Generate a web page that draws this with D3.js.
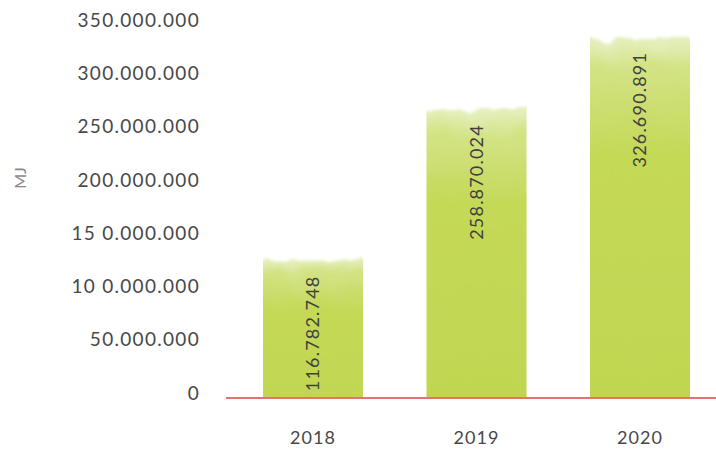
<!DOCTYPE html>
<html>
<head>
<meta charset="utf-8">
<script src="https://cdn.jsdelivr.net/npm/d3@7"></script>
<style>
  body { margin: 0; background: #fff; }
  text { font-family: Lato, "Open Sans", sans-serif; }
</style>
</head>
<body>
<div id="chart"></div>
<script>
// data
var years = ["2018", "2019", "2020"];
var energy = [116782748, 258870024, 326690891];
var valueLabels = ["116.782.748", "258.870.024", "326.690.891"];
var tickValues = [0, 50000000, 100000000, 150000000, 200000000, 250000000, 300000000, 350000000];
var tickLabels = ["0", "50.000.000", "10 0.000.000", "15 0.000.000", "200.000.000", "250.000.000", "300.000.000", "350.000.000"];

var width = 716, height = 452;
var svg = d3.select("#chart").append("svg")
    .attr("width", width)
    .attr("height", height);

var x = d3.scaleBand()
    .domain(years)
    .range([231.25, 721.75])
    .paddingInner(0.388)
    .paddingOuter(0.194);

var y = d3.scaleLinear()
    .domain([0, 350000000])
    .range([398, 25]);

var defs = svg.append("defs");

// watercolour look for the bar tops
var filt = defs.append("filter").attr("id", "brush")
    .attr("x", "-10%").attr("y", "-20%").attr("width", "120%").attr("height", "140%");
filt.append("feTurbulence")
    .attr("type", "fractalNoise")
    .attr("baseFrequency", "0.035")
    .attr("numOctaves", 3)
    .attr("seed", 7)
    .attr("result", "noise");
filt.append("feDisplacementMap")
    .attr("in", "SourceGraphic")
    .attr("in2", "noise")
    .attr("scale", 16)
    .attr("xChannelSelector", "R")
    .attr("yChannelSelector", "G")
    .attr("result", "disp");
filt.append("feGaussianBlur")
    .attr("in", "disp")
    .attr("stdDeviation", 1.4);

var grad = defs.append("linearGradient").attr("id", "barGrad")
    .attr("x1", 0).attr("x2", 0).attr("y1", 0).attr("y2", 1);
grad.append("stop").attr("offset", "0%").attr("stop-color", "#e6efc0");
grad.append("stop").attr("offset", "8%").attr("stop-color", "#d3e386");
grad.append("stop").attr("offset", "30%").attr("stop-color", "#c4d957");
grad.append("stop").attr("offset", "100%").attr("stop-color", "#c0d650");

years.forEach(function(yr, i) {
    defs.append("clipPath").attr("id", "clip" + i)
        .append("rect")
        .attr("x", x(yr))
        .attr("y", 0)
        .attr("width", x.bandwidth())
        .attr("height", y(0));
});

// bars
var bars = svg.selectAll("g.bar")
    .data(years)
    .enter()
    .append("g")
    .attr("class", "bar")
    .attr("clip-path", function(d, i) { return "url(#clip" + i + ")"; });

bars.append("rect")
    .attr("x", function(d) { return x(d) - 10; })
    .attr("width", x.bandwidth() + 20)
    .attr("y", function(d, i) { return y(energy[i]) - 12; })
    .attr("height", function(d, i) { return y(0) - y(energy[i]) + 34; })
    .attr("fill", "url(#barGrad)")
    .attr("filter", "url(#brush)");

// y axis labels
svg.append("g")
    .selectAll("text")
    .data(tickValues)
    .enter()
    .append("text")
    .attr("x", 200)
    .attr("y", function(d) { return y(d) - 5; })
    .attr("dy", "0.35em")
    .attr("text-anchor", "end")
    .attr("fill", "#484848")
    .style("font-size", "19px")
    .style("letter-spacing", "1.3px")
    .text(function(d, i) { return tickLabels[i]; });

// baseline
svg.append("line")
    .attr("x1", 226)
    .attr("x2", 716)
    .attr("y1", y(0))
    .attr("y2", y(0))
    .attr("stroke", "#e8706f")
    .attr("stroke-width", 2);

// x labels
svg.append("g")
    .selectAll("text")
    .data(years)
    .enter()
    .append("text")
    .attr("x", function(d) { return x(d) + x.bandwidth() / 2; })
    .attr("y", 438)
    .attr("dy", "0.35em")
    .attr("text-anchor", "middle")
    .attr("fill", "#484848")
    .style("font-size", "18px")
    .style("letter-spacing", "1px")
    .text(function(d) { return d; });

// value labels inside bars
svg.append("g")
    .selectAll("text")
    .data(years)
    .enter()
    .append("text")
    .attr("transform", function(d, i) {
        return "translate(" + (x(d) + x.bandwidth() / 2) + "," + (y(energy[i]) + 2) + ") rotate(-90)";
    })
    .attr("dy", "0.35em")
    .attr("text-anchor", "end")
    .attr("fill", "#404040")
    .style("font-size", "18px")
    .style("letter-spacing", "1.2px")
    .text(function(d, i) { return valueLabels[i]; });

// unit
svg.append("text")
    .attr("transform", "translate(20,178) rotate(-90)")
    .attr("dy", "0.35em")
    .attr("text-anchor", "middle")
    .attr("fill", "#8a8a8a")
    .style("font-size", "16px")
    .text("MJ");
</script>
</body>
</html>
